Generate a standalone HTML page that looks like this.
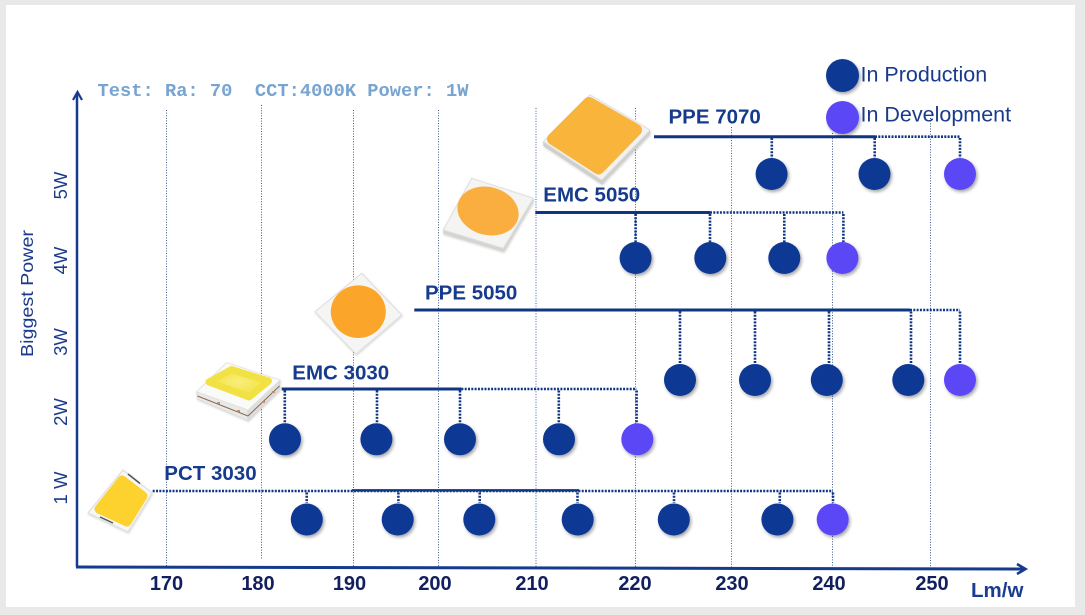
<!DOCTYPE html>
<html>
<head>
<meta charset="utf-8">
<style>
  html,body{margin:0;padding:0;background:#e9e9ea;}
  svg{display:block;}
  .lbl{font-family:"Liberation Sans",sans-serif;font-weight:bold;font-size:20.5px;fill:#163a8c;}
  .tick{font-family:"Liberation Sans",sans-serif;font-weight:bold;font-size:20px;fill:#121f5e;}
  .yt{font-family:"Liberation Sans",sans-serif;font-size:18.5px;fill:#1b3a8c;}
  .leg{font-family:"Liberation Sans",sans-serif;font-size:21.5px;fill:#1a3a8c;}
</style>
</head>
<body>
<svg width="1085" height="615" viewBox="0 0 1085 615" xmlns="http://www.w3.org/2000/svg">
  <defs>
    <filter id="sh" x="-40%" y="-40%" width="180%" height="180%">
      <feDropShadow dx="1.5" dy="2" stdDeviation="1.6" flood-color="#000" flood-opacity="0.35"/>
    </filter>
    <filter id="ls" x="-20%" y="-20%" width="140%" height="140%">
      <feDropShadow dx="0.5" dy="1" stdDeviation="1" flood-color="#000" flood-opacity="0.18"/>
    </filter>
    <radialGradient id="ye" cx="50%" cy="45%" r="60%">
      <stop offset="0" stop-color="#f8ef7a"/>
      <stop offset="1" stop-color="#f1df3c"/>
    </radialGradient>
  </defs>

  <!-- background / panel -->
  <rect x="0" y="0" width="1085" height="615" fill="#e9e9ea"/>
  <rect x="6" y="5" width="1069" height="602" fill="#ffffff"/>

  <!-- grid lines -->
  <g stroke="#3f5f94" stroke-width="1" stroke-dasharray="1 1.6" fill="none">
    <line x1="166.5" y1="110" x2="166.5" y2="566"/>
    <line x1="261.5" y1="105" x2="261.5" y2="559"/>
    <line x1="353.5" y1="110" x2="353.5" y2="566"/>
    <line x1="438.5" y1="110" x2="438.5" y2="566"/>
    <line x1="536" y1="108" x2="536" y2="567"/>
    <line x1="635.5" y1="108" x2="635.5" y2="567"/>
    <line x1="731.5" y1="127" x2="731.5" y2="567"/>
    <line x1="832.5" y1="133" x2="832.5" y2="568"/>
    <line x1="930.5" y1="118" x2="930.5" y2="568"/>
  </g>

  <!-- axes -->
  <g stroke="#163b8c" fill="none">
    <line x1="77" y1="93" x2="77" y2="567" stroke-width="2.5"/>
    <polyline points="73,100 77.5,92 82,100" stroke-width="2.2"/>
    <line x1="76" y1="567" x2="1024" y2="569" stroke-width="3"/>
    <polyline points="1017,564 1025.5,569 1017,574" stroke-width="2.6"/>
  </g>

  <!-- test text -->
  <text x="97.5" y="96" textLength="371" lengthAdjust="spacingAndGlyphs" style="font-family:'Liberation Mono',monospace;font-weight:bold;font-size:18.8px;fill:#77a4d1;" xml:space="preserve">Test: Ra: 70  CCT:4000K Power: 1W</text>

  <!-- y axis labels -->
  <text class="yt" transform="translate(67,185.5) rotate(-90)" text-anchor="middle">5W</text>
  <text class="yt" transform="translate(67,260.5) rotate(-90)" text-anchor="middle">4W</text>
  <text class="yt" transform="translate(67,342) rotate(-90)" text-anchor="middle">3W</text>
  <text class="yt" transform="translate(67,412) rotate(-90)" text-anchor="middle">2W</text>
  <text class="yt" transform="translate(67,488) rotate(-90)" text-anchor="middle">1 W</text>
  <text transform="translate(33,293.5) rotate(-90)" text-anchor="middle" textLength="127" lengthAdjust="spacingAndGlyphs" style="font-family:'Liberation Sans',sans-serif;font-size:17.5px;fill:#1b3a8c;">Biggest Power</text>

  <!-- x tick labels -->
  <g class="tick" text-anchor="middle">
    <text x="166.5" y="590">170</text>
    <text x="258" y="590">180</text>
    <text x="349.5" y="590">190</text>
    <text x="435" y="590">200</text>
    <text x="532" y="590">210</text>
    <text x="635" y="590">220</text>
    <text x="732" y="590">230</text>
    <text x="829" y="590">240</text>
    <text x="932" y="590">250</text>
  </g>
  <text x="971" y="597" style="font-family:'Liberation Sans',sans-serif;font-weight:bold;font-size:20.5px;fill:#1a3d8f;">Lm/w</text>

  <!-- connectors -->
  <g stroke="#0f3583" fill="none">
    <!-- PPE 7070 -->
    <line x1="654" y1="136.7" x2="875" y2="136.7" stroke-width="3"/>
    <g stroke-width="2.6" stroke-dasharray="2 1.3">
      <line x1="875" y1="136.7" x2="960" y2="136.7"/>
      <line x1="771.8" y1="138" x2="771.8" y2="158"/>
      <line x1="874.7" y1="138" x2="874.7" y2="158"/>
      <line x1="960" y1="138" x2="960" y2="158"/>
    </g>
    <!-- EMC 5050 -->
    <line x1="535.3" y1="212.5" x2="710" y2="212.5" stroke-width="3"/>
    <g stroke-width="2.6" stroke-dasharray="2 1.3">
      <line x1="710" y1="212.5" x2="843.4" y2="212.5"/>
      <line x1="635.6" y1="214" x2="635.6" y2="242"/>
      <line x1="710" y1="214" x2="710" y2="242"/>
      <line x1="784.3" y1="214" x2="784.3" y2="242"/>
      <line x1="843.4" y1="214" x2="843.4" y2="242"/>
    </g>
    <!-- PPE 5050 -->
    <line x1="414.3" y1="310" x2="910" y2="310" stroke-width="3"/>
    <g stroke-width="2.6" stroke-dasharray="2 1.3">
      <line x1="910" y1="310" x2="960" y2="310"/>
      <line x1="680" y1="311.5" x2="680" y2="364"/>
      <line x1="755" y1="311.5" x2="755" y2="364"/>
      <line x1="829" y1="311.5" x2="829" y2="364"/>
      <line x1="911" y1="311.5" x2="911" y2="364"/>
      <line x1="960" y1="311.5" x2="960" y2="364"/>
    </g>
    <!-- EMC 3030 -->
    <line x1="281.7" y1="389" x2="461.4" y2="389" stroke-width="3"/>
    <g stroke-width="2.6" stroke-dasharray="2 1.3">
      <line x1="461.4" y1="389" x2="636.6" y2="389"/>
      <line x1="284.8" y1="390.5" x2="284.8" y2="423"/>
      <line x1="377" y1="390.5" x2="377" y2="423"/>
      <line x1="460" y1="390.5" x2="460" y2="423"/>
      <line x1="558.8" y1="390.5" x2="558.8" y2="423"/>
      <line x1="636.6" y1="390.5" x2="636.6" y2="423"/>
    </g>
    <!-- PCT 3030 -->
    <g stroke-width="2.6" stroke-dasharray="2 1.3">
      <line x1="152.7" y1="491" x2="833" y2="491"/>
      <line x1="306.7" y1="492.5" x2="306.7" y2="503"/>
      <line x1="398.4" y1="492.5" x2="398.4" y2="503"/>
      <line x1="479.7" y1="492.5" x2="479.7" y2="503"/>
      <line x1="577.5" y1="492.5" x2="577.5" y2="503"/>
      <line x1="674" y1="492.5" x2="674" y2="503"/>
      <line x1="779.8" y1="492.5" x2="779.8" y2="503"/>
      <line x1="833" y1="492.5" x2="833" y2="503"/>
    </g>
    <line x1="352" y1="490.3" x2="579" y2="490.3" stroke-width="2.4"/>
  </g>

  <!-- product labels -->
  <text class="lbl" x="668.5" y="123.5">PPE 7070</text>
  <text class="lbl" x="543.3" y="201.7">EMC 5050</text>
  <text class="lbl" x="425" y="299.3">PPE 5050</text>
  <text class="lbl" x="292.3" y="379.3">EMC 3030</text>
  <text class="lbl" x="164.3" y="480">PCT 3030</text>

  <!-- LED: PCT 3030 -->
  <g filter="url(#ls)">
    <polygon points="123,470 152,493 128,532 88,513" fill="#f7f7f5" stroke="#dcdcdc" stroke-width="1" stroke-linejoin="round"/>
    <polygon points="122,480 143,496 127,522 99,509" fill="#fdd12e" stroke="#fdd12e" stroke-width="9" stroke-linejoin="round"/>
    <line x1="128" y1="474" x2="140" y2="483.5" stroke="#555" stroke-width="1.5"/>
    <line x1="100" y1="517" x2="113" y2="523" stroke="#555" stroke-width="1.5"/>
  </g>

  <!-- LED: EMC 3030 -->
  <g filter="url(#ls)">
    <polygon points="196.7,391.7 248,410 248,420.5 197.5,399" fill="#e9e9e7" stroke="#d5d5d5" stroke-width="0.6"/>
    <polygon points="248,410 280,380 279.5,390 248,420.5" fill="#dedede" stroke="#d0d0d0" stroke-width="0.6"/>
    <line x1="197.5" y1="396" x2="248" y2="416" stroke="#8a6a55" stroke-width="1"/>
    <line x1="248" y1="416" x2="279.5" y2="386" stroke="#8a6a55" stroke-width="1"/>
    <polygon points="196.7,391.7 226.7,362.7 280,380 248,410" fill="#fafaf8" stroke="#e0e0e0" stroke-width="0.8" stroke-linejoin="round"/>
    <polygon points="209,382 231.5,369.5 268.5,381 249,397" fill="url(#ye)" stroke="#f2e142" stroke-width="7" stroke-linejoin="round"/>
    <rect x="217" y="402" width="3" height="2" fill="#c98b60"/>
    <rect x="237" y="410" width="3" height="2" fill="#c98b60"/>
    <rect x="262" y="401" width="3" height="2" fill="#c98b60"/>
    <rect x="272" y="391" width="3" height="2" fill="#c98b60"/>
  </g>

  <!-- LED: PPE 5050 -->
  <g filter="url(#ls)">
    <polygon points="361.7,273.3 401.7,315 356,354 315,311.7" fill="#f5f5f3" stroke="#dedede" stroke-width="1" stroke-linejoin="round"/>
    <ellipse cx="358.3" cy="311.7" rx="27.5" ry="26.3" fill="#fba52a"/>
  </g>

  <!-- LED: EMC 5050 -->
  <g filter="url(#ls)">
    <polygon points="443.3,230 503.3,248.3 533.3,198.3 533.3,202 504,252 443.3,234" fill="#d4d4d2"/>
    <polygon points="471.7,178.3 533.3,198.3 503.3,248.3 443.3,230" fill="#f4f4f2" stroke="#dedede" stroke-width="1" stroke-linejoin="round"/>
    <ellipse cx="488" cy="211" rx="31" ry="24" transform="rotate(14 488 211)" fill="#fbae40"/>
  </g>

  <!-- LED: PPE 7070 -->
  <g filter="url(#ls)">
    <polygon points="543.3,141.7 601.7,180 650,130 650,134.5 602,184.5 543.3,146" fill="#cfcfcd"/>
    <polygon points="590,95 650,130 601.7,180 543.3,141.7" fill="#f3f3f1" stroke="#dedede" stroke-width="1" stroke-linejoin="round"/>
    <polygon points="589,103 636,130 598.5,168.5 553,139" fill="#f9b43b" stroke="#f9b43b" stroke-width="12" stroke-linejoin="round"/>
  </g>

  <!-- circles -->
  <g filter="url(#sh)">
    <g fill="#0d3793">
      <circle cx="771.6" cy="174" r="16"/>
      <circle cx="874.5" cy="174" r="16"/>
      <circle cx="635.6" cy="258" r="16"/>
      <circle cx="710.3" cy="258" r="16"/>
      <circle cx="784.3" cy="258" r="16"/>
      <circle cx="680" cy="380" r="16"/>
      <circle cx="755" cy="380" r="16"/>
      <circle cx="826.8" cy="380" r="16"/>
      <circle cx="908.3" cy="380" r="16"/>
      <circle cx="285" cy="439.3" r="16"/>
      <circle cx="376.4" cy="439.3" r="16"/>
      <circle cx="460" cy="439.3" r="16"/>
      <circle cx="559" cy="439.3" r="16"/>
      <circle cx="306.8" cy="519.5" r="16"/>
      <circle cx="397.7" cy="519.5" r="16"/>
      <circle cx="479.3" cy="519.5" r="16"/>
      <circle cx="577.7" cy="519.5" r="16"/>
      <circle cx="673.8" cy="519.5" r="16"/>
      <circle cx="777.4" cy="519.5" r="16"/>
      <circle cx="842.5" cy="75.5" r="16.5"/>
    </g>
    <g fill="#5b47f7">
      <circle cx="960" cy="174" r="16"/>
      <circle cx="842.4" cy="258" r="16"/>
      <circle cx="960" cy="380" r="16"/>
      <circle cx="637.3" cy="439.3" r="16"/>
      <circle cx="832.7" cy="519.5" r="16"/>
      <circle cx="842.5" cy="117.5" r="16.5"/>
    </g>
  </g>

  <!-- legend text -->
  <text class="leg" x="860.5" y="81.7">In Production</text>
  <text class="leg" x="860.5" y="121.7">In Development</text>
</svg>
</body>
</html>
